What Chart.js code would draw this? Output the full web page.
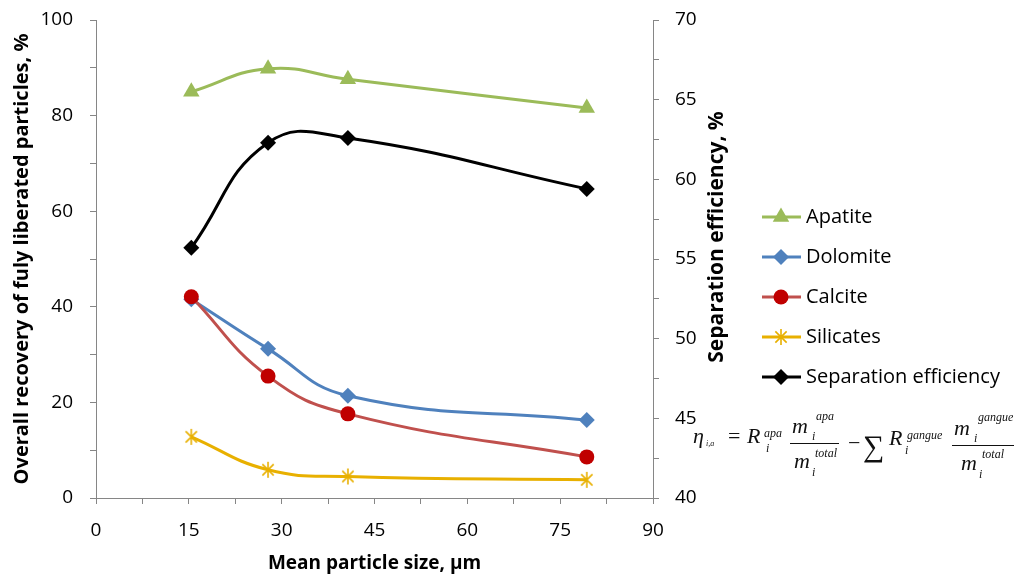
<!DOCTYPE html>
<html>
<head>
<meta charset="utf-8">
<script src="https://cdn.jsdelivr.net/npm/chart.js@4.4.1/dist/chart.umd.min.js"></script>
<style>
  html, body { margin: 0; padding: 0; background: #fff; }
  #wrap { width: 1014px; height: 575px; position: relative; }
</style>
</head>
<body>
<div id="wrap"><canvas id="c" width="1014" height="575"></canvas></div>
<script>
// ---- data ----
const particleSize = [15.4, 27.8, 40.7, 79.3];          // µm
const apatite      = [85.0, 89.8, 87.6, 81.6];          // %
const dolomite     = [41.6, 31.2, 21.4, 16.3];          // %
const calcite      = [42.1, 25.5, 17.6, 8.6];           // %
const silicates    = [12.8, 5.9, 4.5, 3.8];             // %
const sepEfficiency = [55.7, 62.3, 62.6, 59.4];         // % (right axis)
const seriesNames  = ['Apatite', 'Dolomite', 'Calcite', 'Silicates', 'Separation efficiency'];
const xTickLabels  = [0, 15, 30, 45, 60, 75, 90];
const yTickLabels  = [0, 20, 40, 60, 80, 100];
const y2TickLabels = [40, 45, 50, 55, 60, 65, 70];
const rightTitle   = 'Separation efficiency, %';

const FONT = '"Open Sans", Lato, sans-serif';
const AXIS_GRAY = '#868686';

function pts(ys) { return particleSize.map((x, i) => ({ x: x, y: ys[i] })); }

// asterisk marker for silicates
function makeAsterisk(color, size) {
  const c = document.createElement('canvas');
  c.width = size; c.height = size;
  const g = c.getContext('2d');
  const m = size / 2, r = size / 2 - 1;
  g.strokeStyle = color; g.lineWidth = 1.6; g.lineCap = 'butt';
  g.beginPath();
  g.moveTo(m, m - r); g.lineTo(m, m + r);
  const a = Math.PI / 4;
  g.moveTo(m - r * Math.cos(a), m - r * Math.sin(a)); g.lineTo(m + r * Math.cos(a), m + r * Math.sin(a));
  g.moveTo(m - r * Math.cos(a), m + r * Math.sin(a)); g.lineTo(m + r * Math.cos(a), m - r * Math.sin(a));
  g.stroke();
  return c;
}
const starImg = makeAsterisk('#E8B000', 18);

const datasets = [
  { label: seriesNames[0], data: pts(apatite), yAxisID: 'y', borderColor: '#9BBB59', backgroundColor: '#9BBB59',
    pointStyle: 'triangle', pointRadius: 9.5, pointBorderWidth: 0, order: 5 },
  { label: seriesNames[1], data: pts(dolomite), yAxisID: 'y', borderColor: '#4F81BD', backgroundColor: '#4F81BD',
    pointStyle: 'rectRot', pointRadius: 8, pointBorderWidth: 0, order: 4 },
  { label: seriesNames[2], data: pts(calcite), yAxisID: 'y', borderColor: '#C0504D', backgroundColor: '#C00000',
    pointBackgroundColor: '#C00000', pointBorderColor: '#C00000',
    pointStyle: 'circle', pointRadius: 7.5, pointBorderWidth: 0, order: 3 },
  { label: seriesNames[3], data: pts(silicates), yAxisID: 'y', borderColor: '#E8B000', backgroundColor: '#E8B000',
    pointStyle: starImg, pointRadius: 9, order: 2 },
  { label: seriesNames[4], data: pts(sepEfficiency), yAxisID: 'y2', borderColor: '#000000', backgroundColor: '#000000',
    pointStyle: 'rectRot', pointRadius: 8, pointBorderWidth: 0, order: 1 }
];
datasets.forEach(d => { d.borderWidth = 3; d.tension = 0.45; d.fill = false; d.pointHoverRadius = d.pointRadius; });

const legendPlugin = {
  id: 'customLegend',
  afterDraw(chart) {
    const ctx = chart.ctx;
    const ys = [217, 257, 297, 337, 377];
    ctx.save();
    datasets.forEach((d, i) => {
      const y = ys[i];
      ctx.strokeStyle = d.borderColor; ctx.lineWidth = 3;
      ctx.beginPath(); ctx.moveTo(762, y); ctx.lineTo(801, y); ctx.stroke();
      if (d.pointStyle instanceof HTMLCanvasElement) {
        ctx.drawImage(d.pointStyle, 781 - d.pointStyle.width / 2, y - d.pointStyle.height / 2);
      } else {
        ctx.fillStyle = d.pointBackgroundColor || d.backgroundColor;
        ctx.strokeStyle = d.pointBackgroundColor || d.backgroundColor;
        Chart.helpers.drawPoint(ctx, { pointStyle: d.pointStyle, radius: d.pointRadius, rotation: 0, borderWidth: 0 }, 781, y);
      }
      ctx.fillStyle = '#000'; ctx.font = '20px ' + FONT;
      ctx.textBaseline = 'middle'; ctx.textAlign = 'left';
      ctx.fillText(d.label, 806, y);
    });
    // right axis title, reading bottom-to-top
    ctx.translate(717, 237);
    ctx.rotate(-Math.PI / 2);
    ctx.font = 'bold 21px ' + FONT;
    ctx.textAlign = 'center'; ctx.textBaseline = 'middle';
    ctx.fillText(rightTitle, 0, 0);
    ctx.restore();
  }
};

const formulaPlugin = {
  id: 'formula',
  afterDraw(chart) {
    const ctx = chart.ctx;
    ctx.save();
    ctx.fillStyle = '#111'; ctx.strokeStyle = '#111';
    ctx.textBaseline = 'alphabetic'; ctx.textAlign = 'left';
    const big = 'italic 22px "Liberation Serif", serif';
    const small = 'italic 12px "Liberation Serif", serif';
    const tiny = 'italic 8px "Liberation Serif", serif';
    const t = (s, f, x, y) => { ctx.font = f; ctx.fillText(s, x, y); };
    t('\u03B7', big, 693, 443);
    t('i,a', tiny, 706, 446);
    ctx.font = '22px "Liberation Serif", serif'; ctx.fillText('=', 728, 443);
    t('R', big, 747, 443);
    t('apa', small, 764, 437);
    t('i', small, 766, 452);
    t('m', big, 792, 433); t('i', small, 812, 440); t('apa', small, 816, 420);
    ctx.lineWidth = 1; ctx.beginPath(); ctx.moveTo(790, 443.5); ctx.lineTo(839, 443.5); ctx.stroke();
    t('m', big, 794, 468); t('i', small, 812, 476); t('total', small, 815, 457);
    ctx.font = '22px "Liberation Serif", serif'; ctx.fillText('\u2212', 848, 450);
    ctx.font = '30px "Liberation Serif", serif'; ctx.fillText('\u2211', 863, 456);
    t('R', big, 889, 445);
    t('gangue', small, 907, 439);
    t('i', small, 905, 454);
    t('m', big, 954, 435); t('i', small, 974, 442); t('gangue', small, 978, 421);
    ctx.beginPath(); ctx.moveTo(952, 445.5); ctx.lineTo(1014, 445.5); ctx.stroke();
    t('m', big, 961, 470); t('i', small, 979, 478); t('total', small, 982, 458);
    ctx.restore();
  }
};

new Chart(document.getElementById('c'), {
  type: 'line',
  data: { datasets: datasets },
  options: {
    responsive: false,
    animation: false,
    events: [],
    layout: { padding: { left: 0, right: 283, top: 20, bottom: 0 } },
    plugins: { legend: { display: false }, tooltip: { enabled: false } },
    scales: {
      x: {
        type: 'linear', min: 0, max: 90,
        afterFit: s => { s.height = 77; s.paddingLeft = 0; s.paddingRight = 0; },
        border: { color: AXIS_GRAY, width: 1 },
        grid: { drawOnChartArea: false, drawTicks: true, tickLength: 6, color: AXIS_GRAY },
        ticks: { stepSize: 7.5, autoSkip: false, maxRotation: 0, padding: 15, color: '#000',
          font: { family: FONT, size: 19 },
          callback: v => xTickLabels.includes(v) ? String(v) : '' },
        title: { display: true, text: 'Mean particle size, \u00B5m', color: '#000',
          font: { family: FONT, size: 19, weight: 'bold' }, padding: { top: 0, bottom: 0 } }
      },
      y: {
        type: 'linear', position: 'left', min: 0, max: 100,
        afterFit: s => { s.width = 96; s.paddingTop = 0; s.paddingBottom = 0; },
        border: { color: AXIS_GRAY, width: 1 },
        grid: { drawOnChartArea: false, drawTicks: true, tickLength: 6, color: AXIS_GRAY },
        ticks: { stepSize: 10, autoSkip: false, padding: 17, color: '#000',
          font: { family: FONT, size: 19 },
          callback: v => yTickLabels.includes(v) ? String(v) : '' },
        title: { display: true, text: 'Overall recovery of fuly liberated particles, %', color: '#000',
          font: { family: FONT, size: 20, weight: 'bold' }, padding: { top: 10, bottom: 0 } }
      },
      y2: {
        type: 'linear', position: 'right', min: 40, max: 70,
        afterFit: s => { s.width = 78; s.paddingTop = 0; s.paddingBottom = 0; },
        border: { color: AXIS_GRAY, width: 1 },
        grid: { drawOnChartArea: false, drawTicks: true, tickLength: 6, color: AXIS_GRAY },
        ticks: { stepSize: 2.5, autoSkip: false, padding: 16, color: '#000',
          font: { family: FONT, size: 19 },
          callback: v => y2TickLabels.includes(v) ? String(v) : '' },
        title: { display: false }
      }
    }
  },
  plugins: [legendPlugin, formulaPlugin]
});
</script>
</body>
</html>
